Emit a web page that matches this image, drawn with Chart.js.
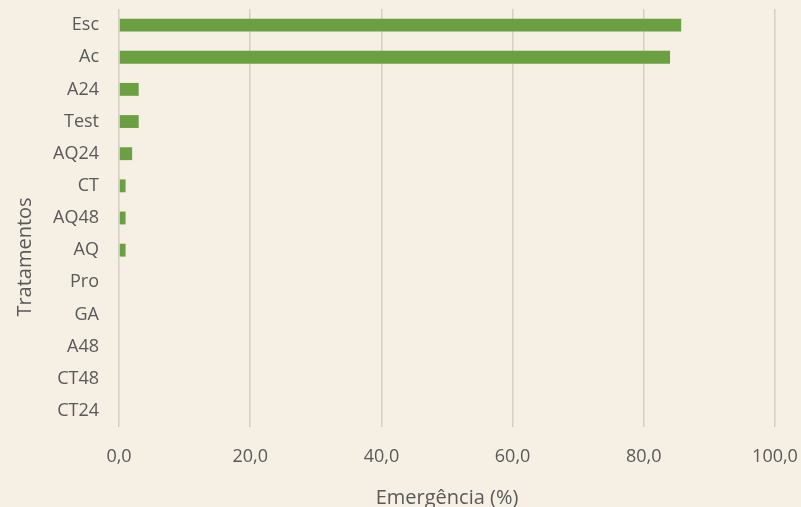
<!DOCTYPE html>
<html>
<head>
<meta charset="utf-8">
<script src="https://cdn.jsdelivr.net/npm/chart.js@4"></script>
<style>
  html, body { margin: 0; padding: 0; background: #F5EFE4; }
  #wrap { width: 801px; height: 507px; position: relative; }
</style>
</head>
<body>
<div id="wrap"><canvas id="c" width="801" height="507"></canvas></div>
<script>
const categories = ["Esc", "Ac", "A24", "Test", "AQ24", "CT", "AQ48", "AQ", "Pro", "GA", "A48", "CT48", "CT24"];
const emergencia = [85.7, 84.0, 3.0, 3.0, 2.0, 1.0, 1.0, 1.0, 0, 0, 0, 0, 0];
const xTicks = [0, 20, 40, 60, 80, 100];
const xTitle = "Emergência (%)";
const yTitle = "Tratamentos";

const bgPlugin = {
  id: 'bg',
  beforeDraw(chart) {
    const ctx = chart.ctx;
    ctx.save();
    ctx.fillStyle = '#F5EFE4';
    ctx.fillRect(0, 0, chart.width, chart.height);
    ctx.restore();
  }
};

// Excel places the vertical axis title a little below the plot centre
const yTitleShift = {
  id: 'yTitleShift',
  afterLayout(chart) {
    const y = chart.scales.y;
    y.bottom += 78;
  }
};

const fontFamily = "'Open Sans', sans-serif";
const textColor = '#595959';

new Chart(document.getElementById('c'), {
  type: 'bar',
  data: {
    labels: categories,
    datasets: [{
      data: emergencia,
      backgroundColor: '#6AA041',
      categoryPercentage: 1,
      barPercentage: 0.4
    }]
  },
  options: {
    indexAxis: 'y',
    responsive: false,
    animation: false,
    devicePixelRatio: 1,
    layout: { padding: { top: 9, right: 26, left: 0, bottom: 0 } },
    plugins: { legend: { display: false }, tooltip: { enabled: false } },
    scales: {
      x: {
        min: 0, max: 100,
        afterBuildTicks(scale) { scale.ticks = xTicks.map(v => ({ value: v })); },
        afterFit(scale) { scale.height = 80; scale.paddingLeft = 0; scale.paddingRight = 0; },
        ticks: {
          color: textColor,
          font: { family: fontFamily, size: 18 },
          padding: 0,
          maxRotation: 0,
          callback: v => v.toFixed(1).replace('.', ',')
        },
        grid: { color: '#D3CFC7', lineWidth: 1.5, drawTicks: true, tickLength: 19, tickColor: 'rgba(0,0,0,0)' },
        border: { display: false },
        title: {
          display: true, text: xTitle, color: textColor,
          font: { family: fontFamily, size: 20, lineHeight: 1.0 },
          padding: { top: 0, bottom: -1 }
        }
      },
      y: {
        afterFit(scale) { scale.width = 119; scale.paddingTop = 0; scale.paddingBottom = 0; },
        ticks: {
          color: textColor,
          font: { family: fontFamily, size: 18 },
          padding: 0,
          autoSkip: false
        },
        grid: { display: true, drawOnChartArea: false, drawTicks: true, tickLength: 20, color: 'rgba(0,0,0,0)', tickColor: 'rgba(0,0,0,0)' },
        border: { display: false },
        title: {
          display: true, text: yTitle, color: textColor,
          font: { family: fontFamily, size: 20 },
          padding: { top: 13, bottom: 0 }
        }
      }
    }
  },
  plugins: [bgPlugin, yTitleShift]
});
</script>
</body>
</html>
